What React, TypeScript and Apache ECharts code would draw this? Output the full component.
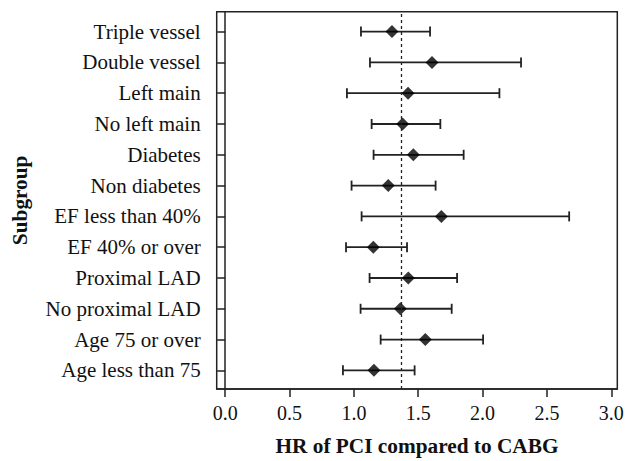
import React, { useEffect, useRef } from "react";
import * as echarts from "echarts";

// Subgroups, top to bottom
const subgroups = [
  "Triple vessel",
  "Double vessel",
  "Left main",
  "No left main",
  "Diabetes",
  "Non diabetes",
  "EF less than 40%",
  "EF 40% or over",
  "Proximal LAD",
  "No proximal LAD",
  "Age 75 or over",
  "Age less than 75",
];
const hr = [1.296, 1.607, 1.421, 1.379, 1.462, 1.267, 1.68, 1.151, 1.423, 1.361, 1.555, 1.156];
const lower = [1.055, 1.125, 0.946, 1.138, 1.153, 0.982, 1.06, 0.939, 1.122, 1.052, 1.208, 0.915];
const upper = [1.592, 2.299, 2.131, 1.672, 1.853, 1.635, 2.673, 1.413, 1.802, 1.76, 2.004, 1.472];
const overallHR = 1.369;
const xTicks = [0, 0.5, 1.0, 1.5, 2.0, 2.5, 3.0];

const FONT = "'Liberation Serif', 'DejaVu Serif', serif";
const INK = "#222";

export default function App() {
  const ref = useRef<HTMLDivElement>(null);
  useEffect(() => {
    if (!ref.current) return;
    const chart = echarts.init(ref.current, null, { renderer: "svg" });
    const n = subgroups.length;
    const rowY = subgroups.map((_, i) => n - i);
    const ciData = subgroups.map((_, i) => [lower[i], upper[i], rowY[i]]);
    const ptData = subgroups.map((_, i) => [hr[i], rowY[i]]);
    chart.setOption({
      animation: false,
      backgroundColor: "#fff",
      textStyle: { fontFamily: FONT },
      grid: {
        left: 216.7,
        top: 11.7,
        right: 15.7,
        bottom: 64.3,
        show: true,
        borderColor: INK,
        borderWidth: 1.5,
        backgroundColor: "transparent",
      },
      xAxis: {
        type: "value",
        min: -0.066,
        max: 3.047,
        name: "HR of PCI compared to CABG",
        nameLocation: "middle",
        nameGap: 46,
        nameTextStyle: { fontFamily: FONT, fontSize: 21.3, fontWeight: "bold", color: "#111" },
        axisLine: { show: true, lineStyle: { color: INK, width: 1.5 } },
        axisTick: { show: true, length: 8, customValues: xTicks, lineStyle: { color: INK, width: 1.5 } },
        axisLabel: {
          customValues: xTicks,
          formatter: (v: number) => v.toFixed(1),
          fontFamily: FONT,
          fontSize: 20,
          color: "#111",
          margin: 14,
        },
        splitLine: { show: false },
      },
      yAxis: {
        type: "value",
        min: 0.395,
        max: 12.646,
        name: "Subgroup",
        nameLocation: "middle",
        nameGap: 186,
        nameRotate: 90,
        nameTextStyle: { fontFamily: FONT, fontSize: 21.3, fontWeight: "bold", color: "#111" },
        axisLine: { show: true, lineStyle: { color: INK, width: 1.5 } },
        axisTick: { show: true, length: 8, customValues: rowY, lineStyle: { color: INK, width: 1.5 } },
        axisLabel: {
          customValues: rowY,
          formatter: (v: number) => subgroups[n - Math.round(v)] ?? "",
          fontFamily: FONT,
          fontSize: 21,
          color: "#111",
          margin: 16,
        },
        splitLine: { show: false },
      },
      series: [
        {
          type: "custom",
          data: ciData,
          renderItem: (params: any, api: any) => {
            const lo = api.coord([api.value(0), api.value(2)]);
            const hi = api.coord([api.value(1), api.value(2)]);
            const cap = 5;
            const style = { stroke: INK, lineWidth: 1.8 };
            return {
              type: "group",
              children: [
                { type: "line", shape: { x1: lo[0], y1: lo[1], x2: hi[0], y2: hi[1] }, style },
                { type: "line", shape: { x1: lo[0], y1: lo[1] - cap, x2: lo[0], y2: lo[1] + cap }, style },
                { type: "line", shape: { x1: hi[0], y1: hi[1] - cap, x2: hi[0], y2: hi[1] + cap }, style },
              ],
            };
          },
          z: 2,
        },
        {
          type: "scatter",
          data: ptData,
          symbol: "diamond",
          symbolSize: [13, 13],
          itemStyle: { color: "#000" },
          z: 3,
          markLine: {
            silent: true,
            symbol: "none",
            label: { show: false },
            lineStyle: { type: [3, 3], color: INK, width: 1.3 },
            data: [{ xAxis: overallHR }],
          },
        },
      ],
    });
    return () => chart.dispose();
  }, []);
  return (
    <div
      ref={ref}
      style={{ position: "fixed", left: 0, top: 0, width: 633, height: 461, background: "#fff" }}
    />
  );
}
